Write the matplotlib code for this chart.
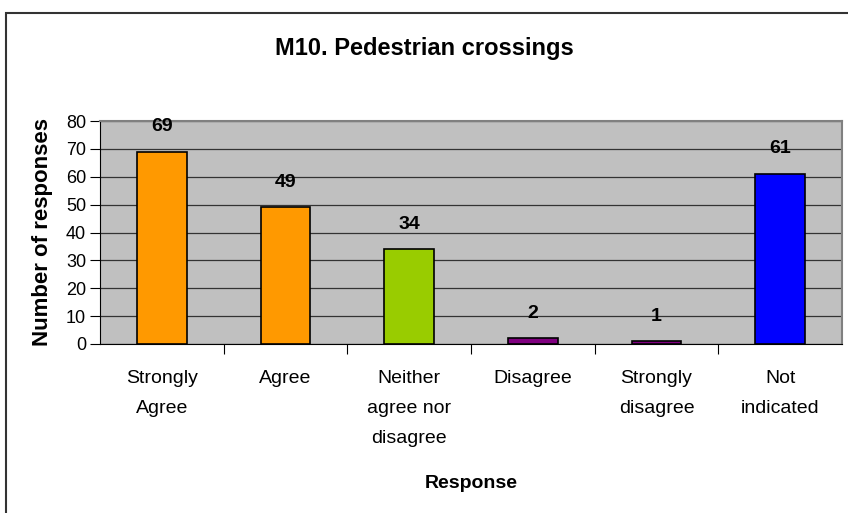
import matplotlib.pyplot as plt
from matplotlib.patches import Rectangle

categories = ["Strongly\nAgree", "Agree", "Neither\nagree nor\ndisagree",
              "Disagree", "Strongly\ndisagree", "Not\nindicated"]
counts = [69, 49, 34, 2, 1, 61]
bar_colors = ["#FF9900", "#FF9900", "#99CC00", "#800080", "#800080", "#0000FF"]
yticks = [0, 10, 20, 30, 40, 50, 60, 70, 80]

plt.rcParams['font.family'] = ['Liberation Sans', 'DejaVu Sans']

fig = plt.figure(figsize=(8.48, 5.13), dpi=100)
ax = fig.add_axes([100 / 848, 1 - 344 / 513, 742 / 848, 223 / 513])

# outer chart border (left/top visible only)
fig.patches.append(Rectangle((6 / 848, -0.1), 1.2, 1 - 13 / 513 + 0.1,
                             transform=fig.transFigure, fill=False,
                             edgecolor="#333333", linewidth=1.5))

x = range(len(categories))
ax.bar(x, counts, width=0.4, color=bar_colors, edgecolor="black", linewidth=1.2, zorder=3)
for i, v in enumerate(counts):
    ax.text(i, v + 9, str(v), ha="center", va="center", fontsize=14, fontweight="bold")

ax.set_facecolor("#C0C0C0")
ax.set_xlim(-0.5, len(categories) - 0.5)
ax.set_ylim(0, 80)
ax.set_yticks(yticks)
ax.yaxis.grid(True, color="#333333", linewidth=0.9, zorder=0)
ax.set_axisbelow(True)

ax.set_xticks([i + 0.5 for i in range(len(categories) - 1)])
ax.set_xticklabels([])
ax.set_xticks(list(x), minor=True)
ax.set_xticklabels(categories, minor=True, fontsize=14, linespacing=2.0)
ax.tick_params(axis="x", which="minor", length=0, pad=19, labelcolor="black")
ax.tick_params(axis="x", which="major", length=7, color="black")
ax.tick_params(axis="y", labelsize=13, length=7, pad=3)

for side in ["top", "right"]:
    ax.spines[side].set_color("#808080")
    ax.spines[side].set_linewidth(1.5)
ax.spines["left"].set_color("black")
ax.spines["bottom"].set_color("black")

ax.set_xlabel("Response", fontsize=14, fontweight="bold", labelpad=20)
ax.set_ylabel("Number of responses", fontsize=16, fontweight="bold", labelpad=9)
fig.text(0.5, 1 - 48 / 513, "M10. Pedestrian crossings", ha="center", va="center",
         fontsize=17, fontweight="bold")

fig.savefig("out.png", dpi=100)
